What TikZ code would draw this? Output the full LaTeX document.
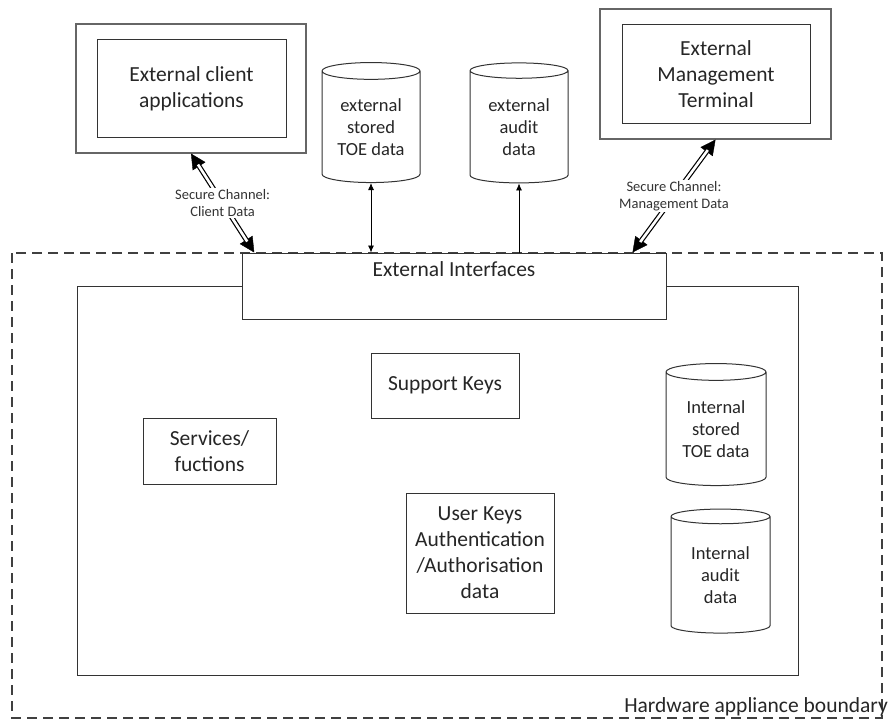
\documentclass[tikz,border=0pt]{standalone}
\usepackage{fontspec}
\setmainfont{Carlito}
\usetikzlibrary{shapes.geometric,arrows.meta,calc}

\tikzset{
  box/.style={draw=black!80, line width=1pt, fill=white, align=center, inner sep=0pt,
    font=\fontsize{21.5}{26}\selectfont, text=black!85},
  frame/.style={draw=black!60, line width=1.2pt, fill=white, inner sep=0pt},
  store/.style={cylinder, shape border rotate=90, aspect=0.25, draw=black!80, line width=1pt,
    fill=white, align=center, inner sep=0pt, font=\fontsize{18.5}{22}\selectfont, text=black!85},
  chan/.style={draw=black, line width=5pt,
    {Triangle[length=15pt,width=15pt,line width=0.4pt]}-{Triangle[length=15pt,width=15pt,line width=0.4pt]},
    postaction={draw=white, line width=2.6pt, -, shorten <=13pt, shorten >=13pt}},
  chanlabel/.style={fill=white, inner sep=1pt, align=center,
    font=\fontsize{14.5}{17}\selectfont, text=black!80},
  flow/.style={black, line width=0.8pt},
  boundary/.style={draw=black!75, line width=1.2pt, dash pattern=on 10pt off 6pt},
}

\begin{document}
\begin{tikzpicture}[x=1pt, y=-1pt]
 \useasboundingbox (0,0) rectangle (894,722);
 % appliance boundary and core
 \draw[boundary] (12,253) rectangle (882,718);
 \node[box, minimum width=721pt, minimum height=389pt] (core) at (437.5,480.5) {};
 \node[box, minimum width=424pt, text height=23pt, text depth=43pt] (extif) at (454,286) {External Interfaces};
 \node[anchor=base east, inner sep=0pt, font=\fontsize{21.5}{22}\selectfont, text=black!85] (hwlabel) at (888,712) {Hardware appliance boundary};

 % outside the appliance
 \node[frame, minimum width=230pt, minimum height=129pt] (clientframe) at (191,88.5) {};
 \node[box, minimum width=189pt, minimum height=98pt] (client) at (191.5,89) {External client\\applications};
 \node[frame, minimum width=231pt, minimum height=130pt] (mgmtframe) at (715.5,74) {};
 \node[box, minimum width=188pt, minimum height=99pt] (mgmt) at (716,74.5) {External\\Management\\Terminal};
 \node[store, minimum width=98pt, minimum height=120pt] (extstored) at (371,127) {external\\stored\\TOE data};
 \node[store, minimum width=98pt, minimum height=120pt] (extaudit) at (519,127) {external\\audit\\data};

 % inside the appliance
 \node[box, minimum width=148pt, minimum height=65pt] (support) at (445,385.5) {Support Keys};
 \node[box, minimum width=133pt, minimum height=66pt] (services) at (209.5,451) {Services/\\fuctions};
 \node[box, minimum width=148pt, minimum height=120pt] (userkeys) at (480,553) {User Keys\\Authentication\\/Authorisation\\data};
 \node[store, minimum width=100pt, minimum height=122pt] (intstored) at (716,429) {Internal\\stored\\TOE data};
 \node[store, minimum width=99pt, minimum height=124pt] (intaudit) at (720.5,575) {Internal\\audit\\data};

 % connectors
 \draw[chan] (clientframe.south) -- node[chanlabel] {Secure Channel:\\Client Data} ($(extif.north west)!0.03!(extif.north east)$);
 \draw[chan] (mgmtframe.south) -- node[chanlabel] {Secure Channel:\\Management Data} ($(extif.north west)!0.92!(extif.north east)$);
 \draw[flow, {Latex[length=7pt,width=6pt]}-{Latex[length=7pt,width=6pt]}] (extstored.south) -- (extstored.south |- extif.north);
 \draw[flow, -{Latex[length=7pt,width=6pt]}] (extaudit.south |- extif.north) -- (extaudit.south);
\end{tikzpicture}
\end{document}
